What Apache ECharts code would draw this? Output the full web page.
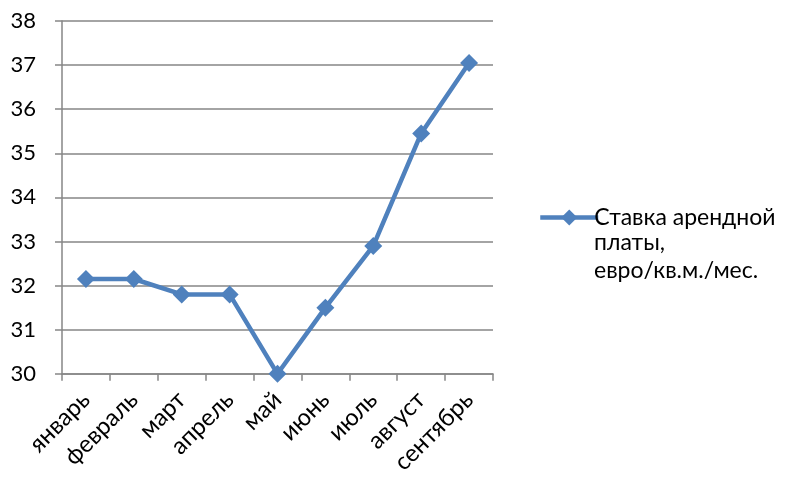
<!DOCTYPE html>
<html><head><meta charset="utf-8">
<script src="https://cdn.jsdelivr.net/npm/echarts@6/dist/echarts.min.js"></script>
<style>html,body{margin:0;padding:0;background:#fff}#c{width:785px;height:477px}</style>
</head><body><div id="c"></div>
<script>
const categories = ['январь','февраль','март','апрель','май','июнь','июль','август','сентябрь'];
const values = [32.15, 32.15, 31.8, 31.8, 30.0, 31.5, 32.9, 35.45, 37.05];
const seriesName = 'Ставка арендной платы, евро/кв.м./мес.';
const legendLines = ['Ставка арендной', 'платы,', 'евро/кв.м./мес.'];
const font = 'Lato';
const chart = echarts.init(document.getElementById('c'));
chart.setOption({
  animation: false,
  grid: {left: 62, right: 292, top: 21, bottom: 101},
  legend: {
    left: 533, top: 201, orient: 'vertical',
    itemWidth: 58, itemHeight: 20, itemGap: 0,
    data: [seriesName],
    formatter: () => legendLines[0],
    lineStyle: {width: 4.5, color: '#4F81BD'},
    textStyle: {fontFamily: font, fontSize: 23, color: '#000', padding: [0, 0, 0, -9]}
  },
  graphic: [{
    type: 'text', left: 594, top: 228,
    style: {text: legendLines.slice(1).join('\n'), fontFamily: font, fontSize: 23, lineHeight: 28.5, fill: '#000'}
  }],
  xAxis: {
    type: 'category', data: categories, boundaryGap: true,
    axisLine: {lineStyle: {color: '#868686', width: 1.5}},
    axisTick: {show: true, length: 7, lineStyle: {color: '#868686', width: 1.5}},
    axisLabel: {rotate: 45, margin: 22, fontFamily: font, fontSize: 24, color: '#000', interval: 0}
  },
  yAxis: {
    type: 'value', min: 30, max: 38, interval: 1,
    axisLine: {show: true, lineStyle: {color: '#868686', width: 1.5}},
    axisTick: {show: true, length: 7, lineStyle: {color: '#868686', width: 1.5}},
    splitLine: {lineStyle: {color: '#868686', width: 1.5}},
    axisLabel: {margin: 26, fontFamily: font, fontSize: 22, color: '#000'}
  },
  series: [{
    name: seriesName, type: 'line', data: values,
    symbol: 'diamond', symbolSize: 18,
    lineStyle: {color: '#4F81BD', width: 4.5},
    itemStyle: {color: '#4F81BD'}
  }]
});
</script></body></html>
